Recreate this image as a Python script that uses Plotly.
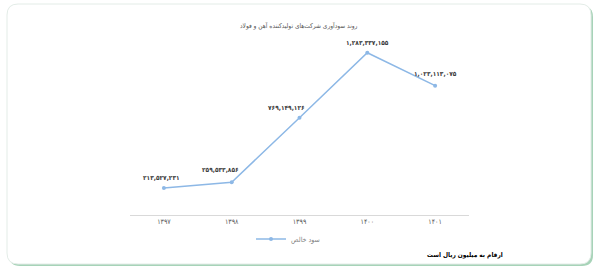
import plotly.graph_objects as go

years = ["۱۳۹۷", "۱۳۹۸", "۱۳۹۹", "۱۴۰۰", "۱۴۰۱"]
net_profit = [213527231, 259533856, 769149126, 1283337155, 1023113075]
value_labels = ["۲۱۳,۵۲۷,۲۳۱", "۲۵۹,۵۳۳,۸۵۶", "۷۶۹,۱۴۹,۱۲۶", "۱,۲۸۳,۳۳۷,۱۵۵", "۱,۰۲۳,۱۱۳,۰۷۵"]
series_name = "سود خالص"
title_text = "روند سودآوری شرکت‌های تولیدکننده آهن و فولاد"
note_text = "ارقام به میلیون ریال است"

# label offsets (pixels) relative to each point
label_dx = [-2, -11, -13, 0, 0]
label_dy = [10, 12, 10, 10, 12]

W, H = 597, 272
L, R, T, B = 130, 128, 38, 57
PW, PH = W - L - R, H - T - B

def px2paper_x(px):
    return (px - L) / PW

def px2paper_y(py):
    return (H - B - py) / PH

def rounded_path(x0, y0, x1, y1, r):
    X0, X1 = px2paper_x(x0), px2paper_x(x1)
    Y0, Y1 = px2paper_y(y0), px2paper_y(y1)
    rx, ry = r / PW, r / PH
    return (f"M {X0+rx},{Y0} L {X1-rx},{Y0} Q {X1},{Y0} {X1},{Y0-ry} "
            f"L {X1},{Y1+ry} Q {X1},{Y1} {X1-rx},{Y1} "
            f"L {X0+rx},{Y1} Q {X0},{Y1} {X0},{Y1+ry} "
            f"L {X0},{Y0-ry} Q {X0},{Y0} {X0+rx},{Y0} Z")

FONT = "DejaVu Sans"
FONT_C = "DejaVu Sans Condensed, DejaVu Sans"

fig = go.Figure()
fig.add_trace(go.Scatter(
    x=years, y=net_profit, mode="lines+markers", name=series_name,
    line=dict(color="#8db8e6", width=1.5),
    marker=dict(size=4, color="#8db8e6"),
))

for yr, v, lab, dx, dy in zip(years, net_profit, value_labels, label_dx, label_dy):
    fig.add_annotation(x=yr, y=v, text="<b>" + lab + "</b>", showarrow=False,
                       xanchor="center", yanchor="middle",
                       xshift=dx, yshift=dy,
                       font=dict(family=FONT_C, size=6.5, color="#404040"))

shapes = [
    dict(type="path", xref="paper", yref="paper", layer="below",
         path=rounded_path(9, 6, 593, 266, 11),
         fillcolor="#a7d3b8", line=dict(width=0)),
    dict(type="path", xref="paper", yref="paper", layer="below",
         path=rounded_path(7, 4, 591, 264, 11),
         fillcolor="#ffffff", line=dict(color="#e3ece7", width=1)),
]

fig.add_annotation(xref="paper", yref="paper", x=px2paper_x(299), y=px2paper_y(26),
                   xanchor="center", yanchor="middle", text=title_text, showarrow=False,
                   font=dict(family=FONT_C, size=6.5, color="#595959"))
fig.add_annotation(xref="paper", yref="paper", x=px2paper_x(465), y=px2paper_y(255),
                   xanchor="center", yanchor="middle", text="<b>" + note_text + "</b>", showarrow=False,
                   font=dict(family=FONT_C, size=6.5, color="#000000"))

fig.update_layout(
    width=W, height=H,
    margin=dict(l=L, r=R, t=T, b=B, pad=0),
    paper_bgcolor="#ffffff", plot_bgcolor="rgba(0,0,0,0)",
    shapes=shapes,
    showlegend=True,
    legend=dict(orientation="h", x=px2paper_x(288), xanchor="center", y=px2paper_y(239), yanchor="middle",
                font=dict(family=FONT_C, size=7, color="#7f7f7f"), bgcolor="rgba(0,0,0,0)"),
    xaxis=dict(range=[-0.5, 4.5], showgrid=False, showline=True, linecolor="#d9d9d9", linewidth=1,
               ticks="", tickfont=dict(family=FONT_C, size=7, color="#595959"),
               zeroline=False, fixedrange=True),
    yaxis=dict(range=[0, 1400000000], visible=False, showgrid=False, zeroline=False),
    font=dict(family=FONT),
)

fig.write_html("out.html")
